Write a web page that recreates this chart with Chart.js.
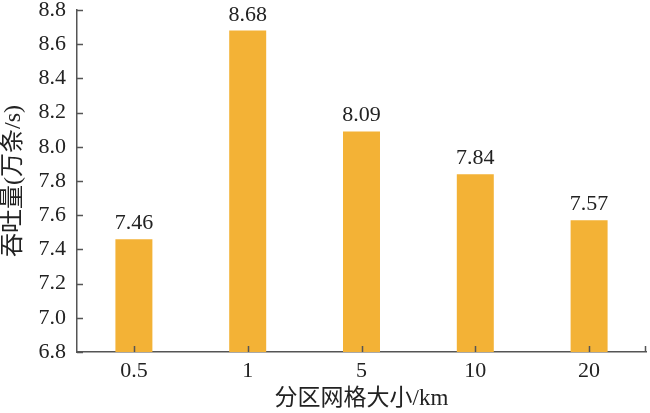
<!DOCTYPE html>
<html lang="zh">
<head>
<meta charset="UTF-8" />
<title>吞吐量</title>
<script src="https://cdn.jsdelivr.net/npm/chart.js"></script>
<style>
  html, body { margin: 0; padding: 0; background: #fff; }
  .box { width: 650px; height: 413px; position: relative; }
</style>
</head>
<body>
<div class="box"><canvas id="c"></canvas></div>
<script>
// data
const gridSizes = ['0.5', '1', '5', '10', '20'];
const throughput = [7.46, 8.68, 8.09, 7.84, 7.57];
const yMin = 6.8, yMax = 8.8, yStep = 0.2;

const serif = '"Liberation Serif", "Times New Roman", "Noto Sans CJK SC", serif';
const axisColor = '#555555';

// values above bars + inward tick marks
const extras = {
  id: 'extras',
  afterDatasetsDraw(chart) {
    const ctx = chart.ctx;
    const meta = chart.getDatasetMeta(0);
    ctx.save();
    ctx.fillStyle = '#222';
    ctx.font = '22px ' + serif;
    ctx.textAlign = 'center';
    ctx.textBaseline = 'alphabetic';
    meta.data.forEach((bar, i) => {
      ctx.fillText(throughput[i].toFixed(2), bar.x, bar.y - 10);
    });

    const x = chart.scales.x, y = chart.scales.y;
    const area = chart.chartArea;
    ctx.strokeStyle = axisColor;
    ctx.lineWidth = 1.5;
    ctx.beginPath();
    y.ticks.forEach((t, i) => {
      const py = Math.round(y.getPixelForTick(i)) + 0.5;
      ctx.moveTo(area.left, py);
      ctx.lineTo(area.left + 6, py);
    });
    x.ticks.forEach((t, i) => {
      const px = Math.round(x.getPixelForTick(i)) + 0.5;
      ctx.moveTo(px, area.bottom);
      ctx.lineTo(px, area.bottom - 6);
    });
    ctx.moveTo(area.right - 0.5, area.bottom);
    ctx.lineTo(area.right - 0.5, area.bottom - 6);
    ctx.stroke();
    ctx.restore();
  }
};

new Chart(document.getElementById('c'), {
  type: 'bar',
  data: {
    labels: gridSizes,
    datasets: [{
      data: throughput,
      backgroundColor: '#F3B236',
      borderWidth: 0,
      barPercentage: 0.325,
      categoryPercentage: 1
    }]
  },
  options: {
    responsive: true,
    maintainAspectRatio: false,
    animation: false,
    layout: { padding: { top: 0, right: 4, left: 0, bottom: 0 } },
    plugins: {
      legend: { display: false },
      tooltip: { enabled: false }
    },
    scales: {
      x: {
        grid: { display: false, drawTicks: false },
        border: { display: true, color: axisColor, width: 1.5 },
        ticks: { color: '#222', font: { family: serif, size: 22 }, padding: 6 },
        title: {
          display: true,
          text: '分区网格大小/km',
          color: '#222',
          font: { family: serif, size: 23 },
          padding: { top: 0, bottom: 0 }
        },
        afterFit(scale) {
          scale.height = 61;
          scale.paddingLeft = 0;
          scale.paddingRight = 0;
        }
      },
      y: {
        min: yMin,
        max: yMax,
        grid: { display: false, drawTicks: false },
        border: { display: true, color: axisColor, width: 1.5 },
        ticks: {
          stepSize: yStep,
          color: '#222',
          padding: 11,
          font: { family: serif, size: 22 },
          callback: v => v.toFixed(1)
        },
        title: {
          display: true,
          text: '吞吐量(万条/s)',
          color: '#222',
          font: { family: serif, size: 24, lineHeight: 1 },
          padding: { top: 2, bottom: 0 }
        },
        afterFit(scale) {
          scale.width = 77;
          scale.paddingTop = 10;
          scale.paddingBottom = 0;
        }
      }
    }
  },
  plugins: [extras]
});
</script>
</body>
</html>
